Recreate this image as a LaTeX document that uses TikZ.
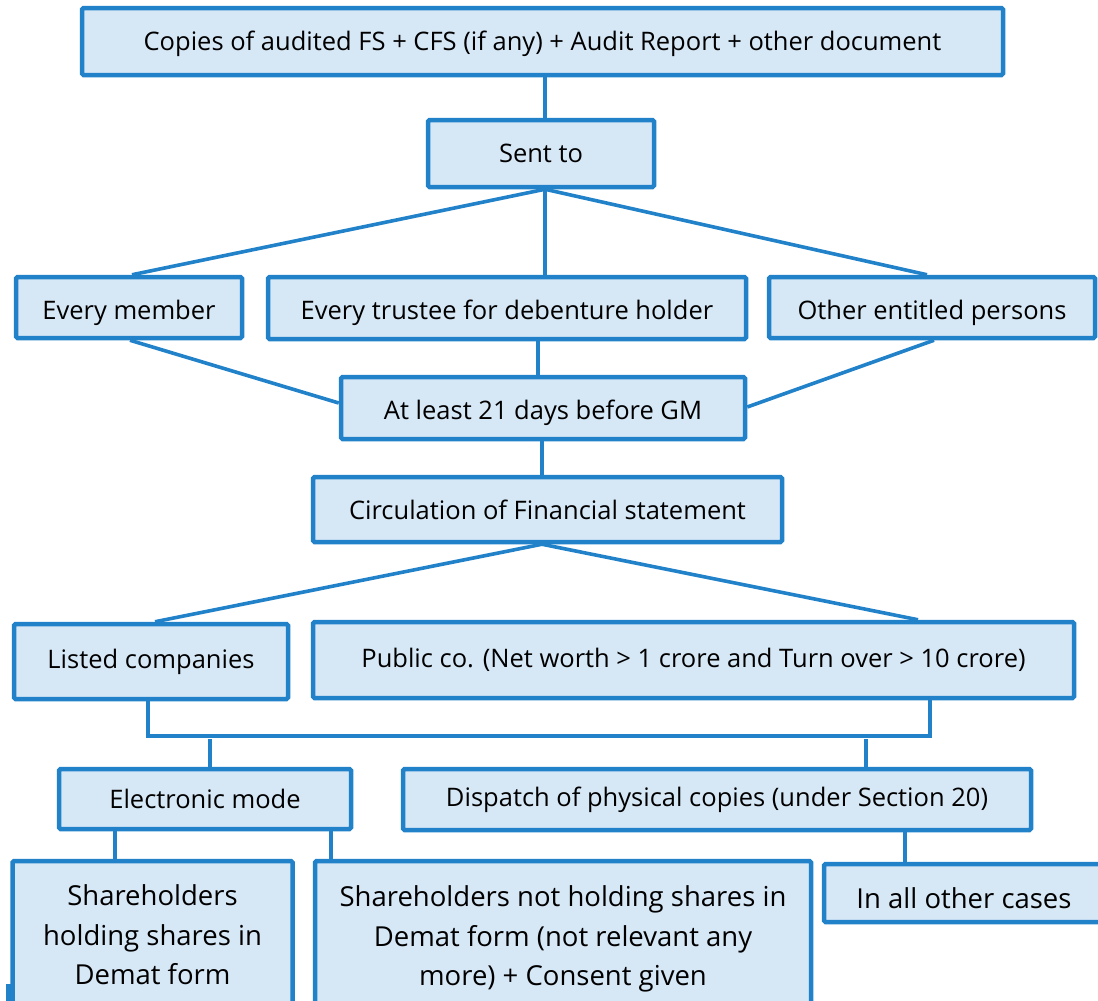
\documentclass[tikz,border=0pt]{standalone}
\usepackage{fontspec}
\setmainfont{Open Sans}
\usetikzlibrary{calc}
\definecolor{edgeblue}{HTML}{2282C9}
\definecolor{boxfill}{HTML}{D6E7F6}
\begin{document}
\begin{tikzpicture}[x=1pt,y=-1pt,
  box/.style={draw=edgeblue, fill=boxfill, line width=4.5pt, rounded corners=1.5pt,
    inner sep=0pt, align=center, text=black,
    font=\fontsize{25.5}{30}\selectfont},
  bigbox/.style={box, font=\fontsize{27.5}{39.5}\selectfont},
  lowtext/.style={text height=#1, text depth=0pt},
  link/.style={draw=edgeblue, line width=3.6pt}]
\useasboundingbox (0,0) rectangle (1098,1001);
\clip (0,0) rectangle (1098,1001);

% boxes
\node[box, minimum width=921pt, minimum height=67pt, lowtext=17pt] (top) at (542.5,41.5)
  {Copies of audited FS + CFS (if any) + Audit Report + other document};
\node[box, minimum width=226pt, minimum height=67pt] (sent) at (541,153.5) {Sent to};
\node[box, minimum width=226pt, minimum height=61pt, lowtext=23pt] (member) at (129,307.5) {Every member};
\node[box, minimum width=478pt, minimum height=62pt, lowtext=23pt] (trustee) at (507,308) {Every trustee for debenture holder};
\node[box, minimum width=326pt, minimum height=61pt, lowtext=23pt] (others) at (932,307.5) {Other entitled persons};
\node[box, minimum width=404pt, minimum height=62pt, lowtext=22pt] (days) at (543,408) {At least 21 days before GM};
\node[box, minimum width=469pt, minimum height=65pt] (circ) at (547.5,509.5) {Circulation of Financial statement};
\node[box, minimum width=274pt, minimum height=75pt] (listed) at (151,661.5) {Listed companies};
\node[box, minimum width=761pt, minimum height=76pt] (public) at (693.5,660)
  {Public co. (Net worth > 1 crore and Turn over > 10 crore)};
\node[box, minimum width=292pt, minimum height=60pt] (elec) at (205,799) {Electronic mode};
\node[box, minimum width=628pt, minimum height=61pt] (disp) at (717,799.5)
  {Dispatch of physical copies (under Section 20)};
\node[bigbox, minimum width=280pt, minimum height=148pt] (demat) at (152.5,935)
  {Shareholders\\holding shares in\\Demat form};
\node[bigbox, minimum width=496pt, minimum height=156pt] (nodemat) at (563,939)
  {Shareholders not holding shares in\\Demat form (not relevant any\\more) + Consent given};
\node[bigbox, minimum width=280pt, minimum height=58pt, lowtext=30pt] (rest) at (964,893) {In all other cases};
\fill[edgeblue] (6,984) rectangle (12,1001);

% connectors
\draw[link] (top.south -| 545,0) -- (sent.north -| 545,0);
\draw[link] (sent.south -| 545,0) -- (member.north -| 132,0);
\draw[link] (sent.south -| 545,0) -- (trustee.north -| 545,0);
\draw[link] (sent.south -| 545,0) -- (others.north -| 927,0);
\draw[link] (member.south -| 130,0) -- ($(days.west)+(0,-5)$);
\draw[link] (trustee.south -| 538,0) -- (days.north -| 538,0);
\draw[link] (others.south -| 934,0) -- ($(days.east)+(0,-1)$);
\draw[link] (days.south -| 542,0) -- (circ.north -| 542,0);
\draw[link] (circ.south -| 542,0) -- (listed.north -| 155,0);
\draw[link] (circ.south -| 542,0) -- (public.north -| 918,0);
\coordinate (barL) at (148,736);
\coordinate (barR) at (930,736);
\draw[link] (listed.south -| barL) -- (barL) -- (barR) -- (public.south -| barR);
\draw[link] (210,739) -- (elec.north -| 210,0);
\draw[link] (866,739) -- (disp.north -| 866,0);
\draw[link] (elec.south -| 115,0) -- (demat.north -| 115,0);
\draw[link] (elec.south -| 331,0) -- (nodemat.north -| 331,0);
\draw[link] (disp.south -| 905,0) -- (rest.north -| 905,0);
\end{tikzpicture}
\end{document}
